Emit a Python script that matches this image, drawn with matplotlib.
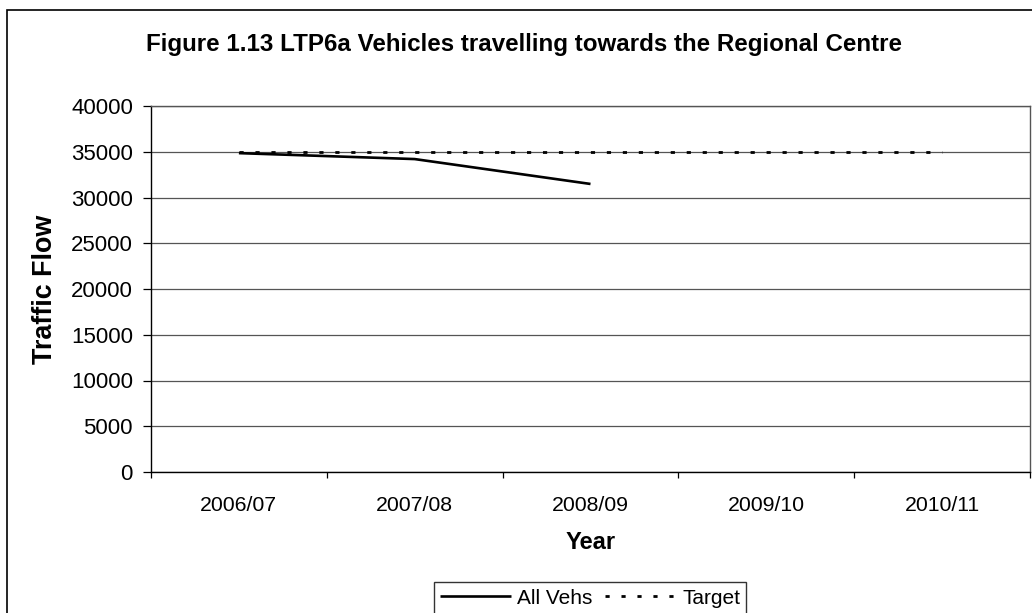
import matplotlib
matplotlib.use("Agg")
import matplotlib.pyplot as plt
from matplotlib.patches import Rectangle

years = ["2006/07", "2007/08", "2008/09", "2009/10", "2010/11"]
all_vehs = [34850, 34200, 31480]
target = [35000, 35000, 35000, 35000, 35000]
yticks = [0, 5000, 10000, 15000, 20000, 25000, 30000, 35000, 40000]

plt.rcParams['font.family'] = ['Liberation Sans', 'DejaVu Sans']

W, H = 1032, 613
fig = plt.figure(figsize=(W / 100, H / 100), dpi=100)

# outer chart border
fig.patches.append(Rectangle((7 / W, -0.1), 1.2, (613 - 10) / H + 0.1,
                             transform=fig.transFigure, fill=False,
                             edgecolor='black', linewidth=1.2))

ax = fig.add_axes([151 / W, (H - 472) / H, (1030 - 151) / W, (472 - 106) / H])
x_all = list(range(len(all_vehs)))
x_t = list(range(len(target)))
ax.plot(x_all, all_vehs, color='black', lw=1.9, label='All Vehs', solid_capstyle='butt')
ax.plot(x_t, target, color='black', lw=2.0, linestyle=(0, (1.5, 4.25)), label='Target')

ax.set_xlim(-0.5, len(years) - 0.5)
ax.set_ylim(0, 40000)
ax.set_yticks(yticks)
ax.set_yticklabels([str(v) for v in yticks])
ax.set_xticks(x_t)
ax.set_xticklabels(years)
ax.set_xticks([i - 0.5 for i in range(len(years) + 1)], minor=True)
ax.tick_params(axis='x', which='major', length=0, pad=17, labelsize=15.3)
ax.tick_params(axis='x', which='minor', length=4, width=0.9, direction='out')
ax.tick_params(axis='y', length=5.5, width=0.9, direction='out', pad=7.5, labelsize=16)
ax.grid(axis='y', color='#555555', lw=0.9)
ax.set_axisbelow(True)
for s in ax.spines.values():
    s.set_color('black')
    s.set_linewidth(1.0)
ax.spines['right'].set_color('#555555')
ax.spines['top'].set_color('#555555')

ax.set_ylabel('Traffic Flow', fontsize=19.4, fontweight='bold', labelpad=9)
ax.set_xlabel('Year', fontsize=17, fontweight='bold', labelpad=11.5)
fig.text(524 / W, 1 - 44 / H, 'Figure 1.13 LTP6a Vehicles travelling towards the Regional Centre',
         ha='center', va='center', fontsize=17.4, fontweight='bold')

leg = fig.legend(loc='center', bbox_to_anchor=(590 / W, 1 - 598 / H), ncol=2,
                 frameon=True, fancybox=False, fontsize=15, handlelength=3.4,
                 columnspacing=0.6, handletextpad=0.3, borderpad=0.3, borderaxespad=0)
leg.get_frame().set_edgecolor('black')
leg.get_frame().set_linewidth(1.0)

fig.savefig('out.png', dpi=100)
